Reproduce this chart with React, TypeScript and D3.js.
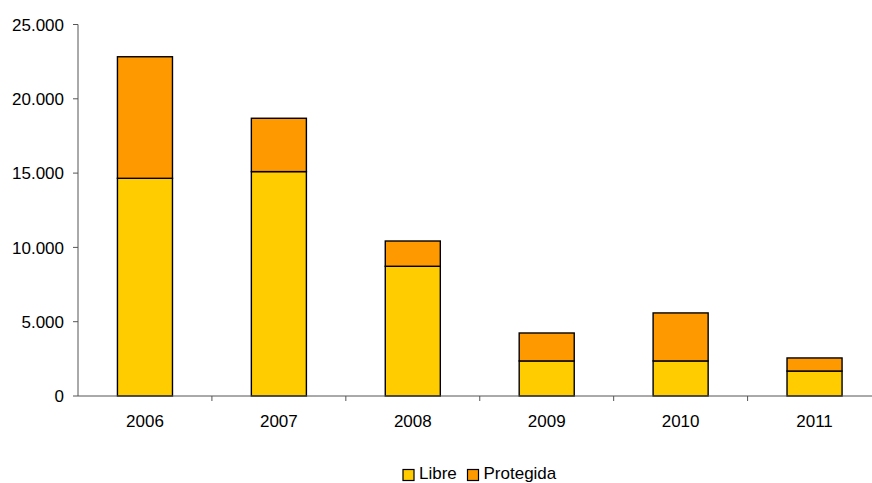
import React from "react";
import * as d3 from "d3";

const years = ["2006", "2007", "2008", "2009", "2010", "2011"];
const libre = [14650, 15100, 8730, 2360, 2360, 1680];
const protegida = [8180, 3590, 1700, 1880, 3230, 880];
const yTicks = [0, 5000, 10000, 15000, 20000, 25000];
const seriesNames = ["Libre", "Protegida"];
const colors = ["#FFCC00", "#FF9900"];

const W = 872;
const H = 483;
const left = 78;
const right = 881.5;
const top = 24.5;
const bottom = 396;
const FONT = "'Liberation Sans', Arial, sans-serif";

export default function App() {
  const rows = years.map((y, i) => ({ year: y, Libre: libre[i], Protegida: protegida[i] }));
  const stack = d3.stack<any>().keys(seriesNames)(rows);
  const y = d3.scaleLinear().domain([0, 25000]).range([bottom, top]);
  const xOuter = d3.scaleBand().domain(years).range([left, right]).padding(0);
  const x = d3
    .scaleBand()
    .domain(years)
    .range([left, right])
    .paddingInner(0.589)
    .paddingOuter(0.2945);
  const fmt = (v: number) => d3.format(",")(v).replace(/,/g, ".");

  return (
    <svg
      width={W}
      height={H}
      style={{ position: "absolute", left: 0, top: 0, display: "block" }}
      fontFamily={FONT}
    >
      <rect width={W} height={H} fill="#fff" />
      {stack.map((s, si) =>
        s.map((d, i) => (
          <rect
            key={si + "-" + i}
            x={x(years[i])!}
            width={x.bandwidth()}
            y={y(d[1])}
            height={y(d[0]) - y(d[1])}
            fill={colors[si]}
            stroke="#000"
            strokeWidth={1.4}
          />
        ))
      )}
      {/* y axis */}
      <line x1={left} x2={left} y1={top} y2={bottom} stroke="#555" strokeWidth={1} />
      {yTicks.map((t) => (
        <g key={t}>
          <line x1={left - 5} x2={left} y1={y(t)} y2={y(t)} stroke="#555" />
          <text x={64} y={y(t)} dy="0.36em" textAnchor="end" fontSize={17} fill="#000">
            {fmt(t)}
          </text>
        </g>
      ))}
      {/* x axis */}
      <line x1={left} x2={right} y1={bottom} y2={bottom} stroke="#555" strokeWidth={1} />
      {years.map((yr, i) => (
        <g key={yr}>
          {i > 0 && (
            <line
              x1={xOuter(yr)!}
              x2={xOuter(yr)!}
              y1={bottom}
              y2={bottom + 5}
              stroke="#555"
            />
          )}
          <text
            x={xOuter(yr)! + xOuter.bandwidth() / 2}
            y={427}
            textAnchor="middle"
            fontSize={17}
            fill="#000"
          >
            {yr}
          </text>
        </g>
      ))}
      {/* legend */}
      {seriesNames.map((n, i) => {
        const lx = [403, 467.5][i];
        return (
          <g key={n}>
            <rect x={lx} y={469.5} width={11} height={11} fill={colors[i]} stroke="#000" strokeWidth={1.2} />
            <text x={lx + 16} y={479} fontSize={17} fill="#000">
              {n}
            </text>
          </g>
        );
      })}
    </svg>
  );
}
